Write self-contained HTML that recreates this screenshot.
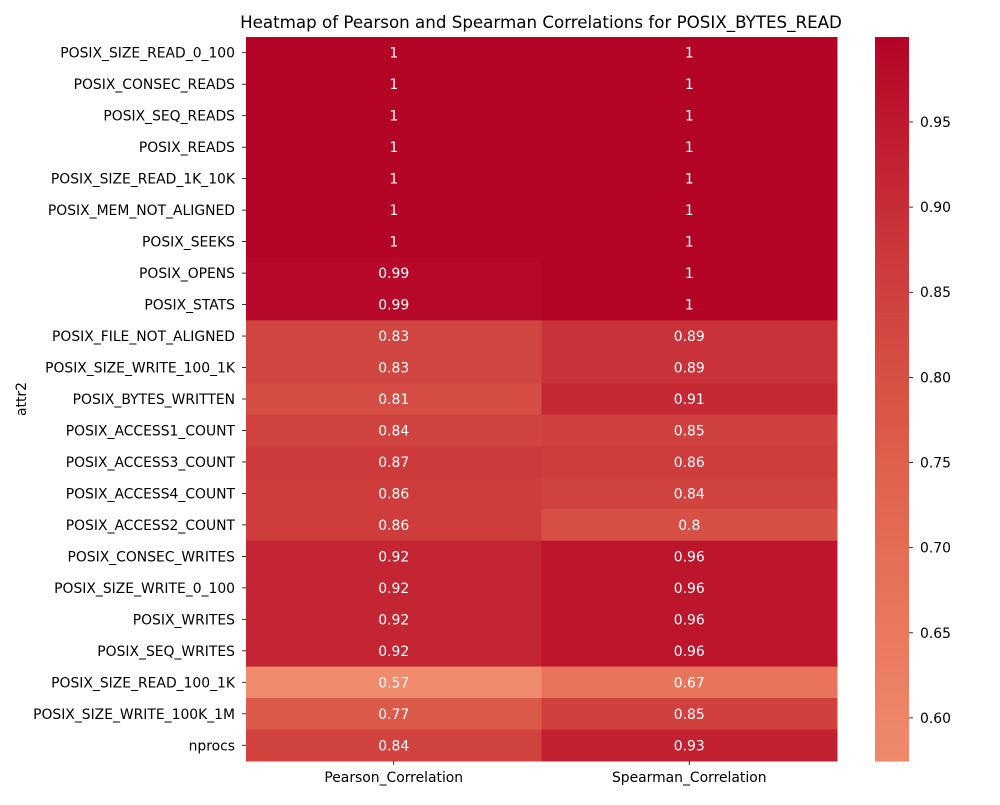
<!DOCTYPE html>
<html><head><meta charset="utf-8"><style>
body{margin:0;background:#fff;}
svg text{font-family:"DejaVu Sans","Liberation Sans",sans-serif;}
</style></head><body>
<svg id="chart" width="1000" height="800" xmlns="http://www.w3.org/2000/svg">
<rect width="1000" height="800" fill="#fff"/>
<text x="541" y="28" font-size="16.7" text-anchor="middle" fill="#000">Heatmap of Pearson and Spearman Correlations for POSIX_BYTES_READ</text>
<text x="0" y="0" font-size="13.9" text-anchor="middle" transform="translate(26,399) rotate(-90)">attr2</text>
<g id="cells"></g><g id="ylabels"></g><g id="xlabels"></g><g id="cbar"></g>
</svg>
<script>
const rows = ["POSIX_SIZE_READ_0_100","POSIX_CONSEC_READS","POSIX_SEQ_READS","POSIX_READS","POSIX_SIZE_READ_1K_10K","POSIX_MEM_NOT_ALIGNED","POSIX_SEEKS","POSIX_OPENS","POSIX_STATS","POSIX_FILE_NOT_ALIGNED","POSIX_SIZE_WRITE_100_1K","POSIX_BYTES_WRITTEN","POSIX_ACCESS1_COUNT","POSIX_ACCESS3_COUNT","POSIX_ACCESS4_COUNT","POSIX_ACCESS2_COUNT","POSIX_CONSEC_WRITES","POSIX_SIZE_WRITE_0_100","POSIX_WRITES","POSIX_SEQ_WRITES","POSIX_SIZE_READ_100_1K","POSIX_SIZE_WRITE_100K_1M","nprocs"];
const columns = ["Pearson_Correlation","Spearman_Correlation"];
const pearson = [1,1,1,1,1,1,1,0.99,0.99,0.83,0.83,0.81,0.84,0.87,0.86,0.86,0.92,0.92,0.92,0.92,0.57,0.77,0.84];
const spearman = [1,1,1,1,1,1,1,1,1,0.89,0.89,0.91,0.85,0.86,0.84,0.8,0.96,0.96,0.96,0.96,0.67,0.85,0.93];
const cbarTicks = [0.60,0.65,0.70,0.75,0.80,0.85,0.90,0.95];
const vmin = 0.5747, vmax = 0.9999;

const NS="http://www.w3.org/2000/svg";
const X0=246,X1=837,Y0=37,Y1=761;
const FS=13.9;
const anchors=[[0.5,[221,220,220]],[0.625,[245,196,173]],[0.75,[244,154,123]],[0.8125,[236,127,99]],[0.875,[222,96,77]],[0.9375,[204,56,58]],[1.0,[180,4,38]]];
function color(v){
  const p=0.5+0.5*v;
  for(let i=1;i<anchors.length;i++){
    if(p<=anchors[i][0]){
      const a=anchors[i-1],b=anchors[i],t=(p-a[0])/(b[0]-a[0]);
      const c=a[1].map((x,k)=>Math.round(x+(b[1][k]-x)*t));
      return `rgb(${c[0]},${c[1]},${c[2]})`;
    }
  }
  return "rgb(180,4,38)";
}
const rh=(Y1-Y0)/rows.length, cw=(X1-X0)/columns.length;
const yPos=i=>Y0+i*rh, xPos=j=>X0+j*cw;
function mk(tag,attrs,parent){const e=document.createElementNS(NS,tag);for(const k in attrs)e.setAttribute(k,attrs[k]);parent.appendChild(e);return e;}
const cells=document.getElementById('cells');
[pearson,spearman].forEach((series,j)=>{
  series.forEach((v,i)=>{
    const r=mk('rect',{x:xPos(j),y:yPos(i),width:cw+0.5,height:rh+0.5,fill:color(v)},cells);
    
    
    const t=mk('text',{x:xPos(j)+cw/2,y:yPos(i)+rh/2+5,'font-size':FS,'text-anchor':'middle',fill:'#fff'},cells);
    t.textContent=String(v);
    
    
  });
});
const yl=document.getElementById('ylabels');
rows.forEach((r,i)=>{
  mk('line',{x1:X0-4,x2:X0,y1:yPos(i)+rh/2,y2:yPos(i)+rh/2,stroke:'#000','stroke-width':0.8},yl);
  const t=mk('text',{x:X0-11,y:yPos(i)+rh/2+5,'font-size':FS,'text-anchor':'end'},yl);
  t.textContent=r;
  
  
});
const xl=document.getElementById('xlabels');
columns.forEach((c,j)=>{
  mk('line',{x1:xPos(j)+cw/2,x2:xPos(j)+cw/2,y1:Y1,y2:Y1+4,stroke:'#000','stroke-width':0.8},xl);
  const t=mk('text',{x:xPos(j)+cw/2,y:Y1+21,'font-size':FS,'text-anchor':'middle'},xl);
  t.textContent=c;
  
  
});
const cb=document.getElementById('cbar');
const CX0=875,CX1=909;
const cy=v=>Y1-(v-vmin)/(vmax-vmin)*(Y1-Y0);
const N=200;
for(let k=0;k<N;k++){
  const v=vmin+(vmax-vmin)*(k+0.5)/N;
  const yTop=Y1-(k+1)*(Y1-Y0)/N;
  mk('rect',{x:CX0,y:yTop,width:CX1-CX0,height:(Y1-Y0)/N+0.6,fill:color(v)},cb);
}


cbarTicks.forEach(v=>{
  const y=cy(v);
  mk('line',{x1:CX1,x2:CX1+4,y1:y,y2:y,stroke:'#000','stroke-width':0.8},cb);
  const t=mk('text',{x:CX1+11,y:y+5,'font-size':FS},cb);
  t.textContent=v.toFixed(2);
  
  
});
</script>
</body></html>
